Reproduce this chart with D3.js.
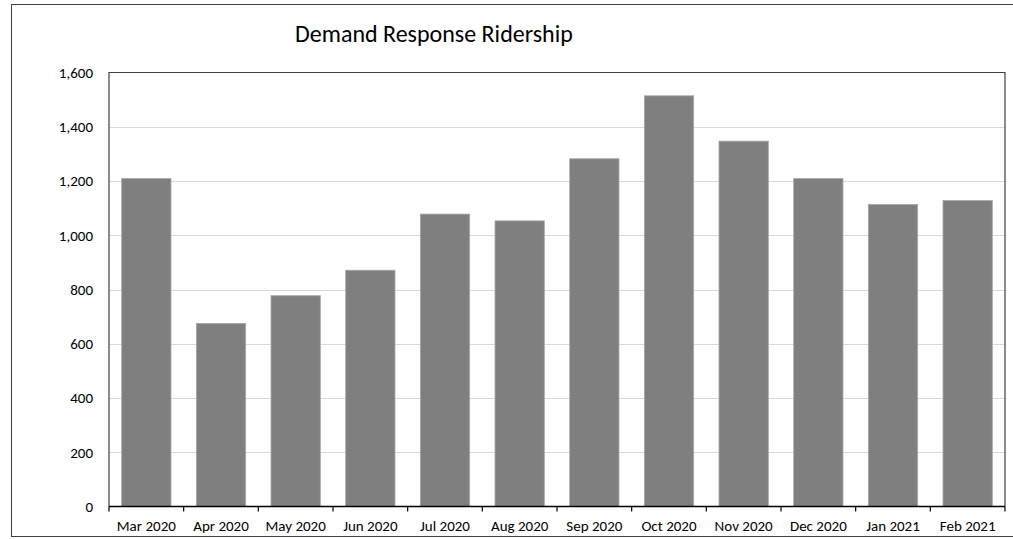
<!DOCTYPE html>
<html>
<head>
<meta charset="utf-8">
<script src="https://cdn.jsdelivr.net/npm/d3@7"></script>
<style>
  html, body { margin: 0; padding: 0; background: #fff; }
  svg { display: block; font-family: Calibri, Carlito, Lato, 'Open Sans', sans-serif; }
</style>
</head>
<body>
<div id="chart"></div>
<script>
const months = ['Mar 2020', 'Apr 2020', 'May 2020', 'Jun 2020', 'Jul 2020', 'Aug 2020',
  'Sep 2020', 'Oct 2020', 'Nov 2020', 'Dec 2020', 'Jan 2021', 'Feb 2021']
const riders = [1209, 675, 777, 871, 1078, 1053, 1282, 1514, 1347, 1209, 1113, 1128]
const yTicks = [0, 200, 400, 600, 800, 1000, 1200, 1400, 1600]

const width = 1013
const height = 539
const margin = { top: 72.5, right: 8, bottom: 32.5, left: 109 }

const svg = d3.select('#chart')
  .append('svg')
  .attr('width', width)
  .attr('height', height)

// outer chart frame
svg.append('rect')
  .attr('x', 11.5)
  .attr('y', 4.5)
  .attr('width', 1010)
  .attr('height', 532)
  .attr('fill', 'none')
  .attr('stroke', '#404040')

svg.append('text')
  .attr('x', 295)
  .attr('y', 42)
  .attr('font-size', 24)
  .attr('fill', '#000')
  .text('Demand Response Ridership')

const x = d3.scaleBand()
  .domain(months)
  .range([margin.left, width - margin.right])
  .paddingInner(0.34)
  .paddingOuter(0.17)

const y = d3.scaleLinear()
  .domain([0, 1600])
  .range([height - margin.bottom, margin.top])

// gridlines
svg.append('g')
  .selectAll('line')
  .data(yTicks.filter(d => d > 0 && d < 1600))
  .join('line')
  .attr('x1', margin.left)
  .attr('x2', width - margin.right)
  .attr('y1', d => Math.round(y(d)) + 0.5)
  .attr('y2', d => Math.round(y(d)) + 0.5)
  .attr('stroke', '#d9d9d9')

// bars
svg.append('g')
  .selectAll('rect')
  .data(months.map((m, i) => ({ m, v: riders[i] })))
  .join('rect')
  .attr('x', d => x(d.m))
  .attr('y', d => y(d.v))
  .attr('width', x.bandwidth())
  .attr('height', d => y(0) - y(d.v))
  .attr('fill', '#7f7f7f')
  .attr('stroke', '#a6a6a6')
  .attr('stroke-width', 0.8)

// plot frame: left, top, right
svg.append('path')
  .attr('d', `M${margin.left},${y(0)}V${margin.top}H${width - margin.right}V${y(0)}`)
  .attr('fill', 'none')
  .attr('stroke', '#404040')
  .attr('stroke-width', 1.2)

// y axis labels
svg.append('g')
  .selectAll('text')
  .data(yTicks)
  .join('text')
  .attr('x', 93)
  .attr('y', d => y(d))
  .attr('dy', '0.35em')
  .attr('text-anchor', 'end')
  .attr('font-size', 15)
  .attr('fill', '#000')
  .text(d => d3.format(',')(d))

// x axis with ticks at band boundaries
const step = x.step()
const bounds = d3.range(months.length + 1).map(i => margin.left + i * step)
const xAxis = svg.append('g')
xAxis.append('line')
  .attr('x1', margin.left)
  .attr('x2', width - margin.right)
  .attr('y1', y(0))
  .attr('y2', y(0))
  .attr('stroke', '#000')
  .attr('stroke-width', 1.5)
xAxis.selectAll('.tick')
  .data(bounds)
  .join('line')
  .attr('class', 'tick')
  .attr('x1', d => d)
  .attr('x2', d => d)
  .attr('y1', y(0))
  .attr('y2', y(0) + 5)
  .attr('stroke', '#000')
  .attr('stroke-width', 1.2)
xAxis.selectAll('text')
  .data(months)
  .join('text')
  .attr('x', d => x(d) + x.bandwidth() / 2)
  .attr('y', 531)
  .attr('text-anchor', 'middle')
  .attr('font-size', 15)
  .attr('fill', '#000')
  .text(d => d)
</script>
</body>
</html>
